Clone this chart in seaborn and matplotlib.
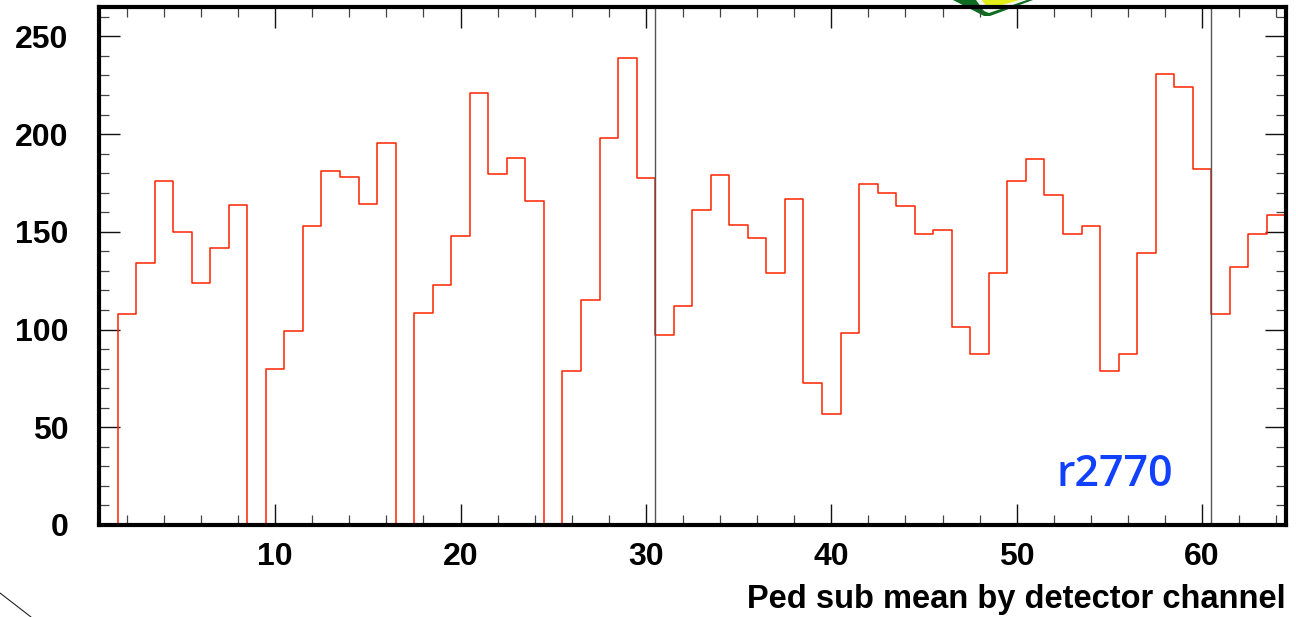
import numpy as np
import pandas as pd
import matplotlib
matplotlib.use('Agg')
import matplotlib.pyplot as plt
import seaborn as sns
from matplotlib.lines import Line2D
from matplotlib.patches import Polygon
from matplotlib.ticker import MultipleLocator
from matplotlib.transforms import IdentityTransform

# channel contents
channels = np.arange(1, 65)
counts = [0, 108, 134, 176, 150, 124, 141.5, 163.5,
          0, 80, 99, 153, 181, 178, 164, 195.5,
          0, 108.5, 123, 148, 221, 179.5, 188, 166,
          0, 79, 115, 198, 239, 177.5, 97, 112,
          161, 179, 153.5, 147, 129, 167, 72.5, 57,
          98, 174.5, 170, 163, 149, 151, 101.5, 87.5,
          129, 176, 187, 169, 149, 153, 79, 87.5,
          139, 230.5, 224, 182, 108, 132, 149, 158.5]
module_edges = [30.5, 60.5]
x_label = 'Ped sub mean by detector channel'
run_label = 'r2770'

sns.set_style('ticks')
plt.rcParams['font.family'] = ['Liberation Sans', 'DejaVu Sans']

W, H = 1296, 617
fig = plt.figure(figsize=(W / 100, H / 100), dpi=100)
ax = fig.add_axes([99 / W, 1 - 525 / H, (1285.5 - 99) / W, (525 - 7) / H])
ax.patch.set_alpha(0)

df = pd.DataFrame({'channel': channels, 'count': counts})
sns.histplot(data=df, x='channel', weights='count', bins=64, binrange=(0.5, 64.5),
             element='step', fill=False, color='#ff2200', linewidth=1.1, ax=ax)
for edge in module_edges:
    ax.axvline(edge, color='#555555', linewidth=1.0)

ax.set_xlim(0.5, 64.5)
ax.set_ylim(0, 265)
ax.set_ylabel('')
ax.set_xlabel(x_label, fontsize=23.5, fontweight='bold', loc='right', labelpad=9, color='black')

ax.xaxis.set_major_locator(MultipleLocator(10))
ax.xaxis.set_minor_locator(MultipleLocator(2))
ax.yaxis.set_major_locator(MultipleLocator(50))
ax.yaxis.set_minor_locator(MultipleLocator(10))
ax.tick_params(which='major', direction='in', top=True, right=True, length=15, width=1.0,
               color='#111111', labelcolor='black', labelsize=23, pad=22)
ax.tick_params(which='minor', direction='in', top=True, right=True, length=7, width=0.9,
               color='#444444')
for lab in ax.get_xticklabels() + ax.get_yticklabels():
    lab.set_fontweight('bold')
ax.tick_params(axis='x', pad=12)

for side in ax.spines.values():
    side.set_linewidth(3.0)
    side.set_color('black')
    side.set_visible(True)

ax.text(1115, H - 475, run_label, transform=IdentityTransform(), fontsize=31, color='#1240ff',
        family='Open Sans', fontweight='semibold', ha='center', va='center')

# bit of logo poking out under the top of the frame, and the stray corner line
def px(pts):
    return [(x / W, 1 - y / H) for x, y in pts]

fig.add_artist(Polygon(px([(953, 0), (1033, 0), (990, 16), (984, 16)]), closed=True,
                       facecolor='#0d6b22', edgecolor='none', zorder=-3))
fig.add_artist(Polygon(px([(976, 0), (1027, 0), (989, 13), (984, 11)]), closed=True,
                       facecolor='#f4f8f0', edgecolor='none', zorder=-2))
fig.add_artist(Polygon(px([(982, 0), (1019, 0), (989, 9), (986, 6)]), closed=True,
                       facecolor='#e4ee1a', edgecolor='none', zorder=-1))
fig.add_artist(Line2D([0 / W, 31 / W], [1 - 593 / H, 1 - 617 / H], color='#222222', linewidth=0.8))

fig.savefig('out.png', dpi=100)
